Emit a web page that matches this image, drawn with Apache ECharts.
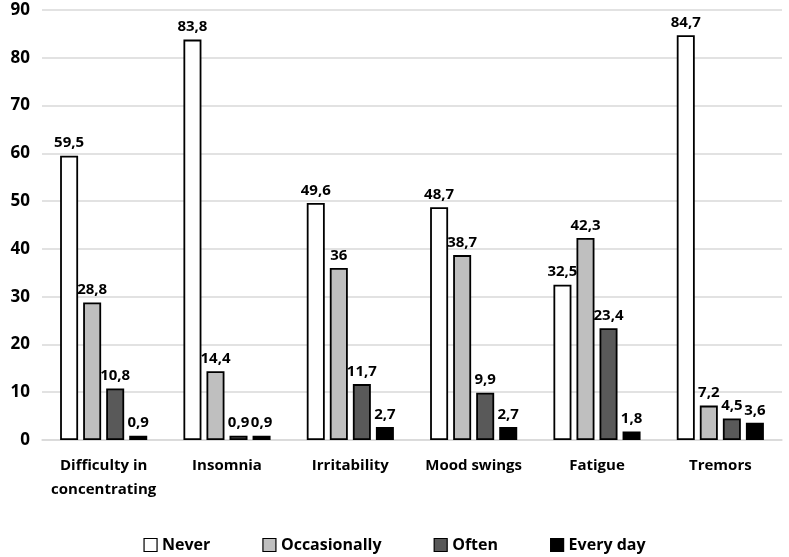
<!DOCTYPE html>
<html><head><meta charset="utf-8">
<script src="https://cdn.jsdelivr.net/npm/echarts@6/dist/echarts.min.js"></script>
<style>html,body{margin:0;padding:0;background:#fff}#c{width:789px;height:557px}</style>
</head><body><div id="c"></div>
<script>
const categories = ['Difficulty in\nconcentrating','Insomnia','Irritability','Mood swings','Fatigue','Tremors'];
const never = [59.5, 83.8, 49.6, 48.7, 32.5, 84.7];
const occasionally = [28.8, 14.4, 36, 38.7, 42.3, 7.2];
const often = [10.8, 0.9, 11.7, 9.9, 23.4, 4.5];
const everyDay = [0.9, 0.9, 2.7, 2.7, 1.8, 3.6];
const seriesNames = ['Never','Occasionally','Often','Every day'];
const colors = ['#ffffff','#bfbfbf','#595959','#000000'];
const font = '"Open Sans", sans-serif';
const chart = echarts.init(document.getElementById('c'));
const mk = (name, data, i) => ({
  name, type:'bar', data, barWidth:18, barGap:'28%',
  itemStyle:{color:colors[i], borderColor:'#000', borderWidth:1.8},
  label:{show:true, position:'top', distance:5, color:'#000', fontWeight:'bold', fontSize:15, fontFamily:font,
    formatter:p=>String(p.value).replace('.',',')}
});
chart.setOption({
  animation:false,
  grid:{left:42,right:7,top:10,bottom:117},
  legend:{bottom:-1,left:'center',itemWidth:13,itemHeight:13,itemGap:52,icon:'rect',
    textStyle:{fontFamily:font,fontWeight:'bold',fontSize:16,color:'#000'},
    data:seriesNames.map((n,i)=>({name:n,itemStyle:{color:colors[i],borderColor:'#000',borderWidth:1.2}}))},
  xAxis:{type:'category',data:categories,axisTick:{show:false},
    axisLine:{lineStyle:{color:'#d9d9d9',width:1.5}},
    axisLabel:{color:'#000',fontFamily:font,fontWeight:'bold',fontSize:15,margin:14,lineHeight:24,interval:0}},
  yAxis:{type:'value',min:0,max:90,interval:10,
    axisLabel:{color:'#000',fontFamily:font,fontWeight:'bold',fontSize:17,margin:12},
    splitLine:{lineStyle:{color:'#d9d9d9',width:1.5}},axisLine:{show:false},axisTick:{show:false}},
  series:[mk(seriesNames[0],never,0),mk(seriesNames[1],occasionally,1),mk(seriesNames[2],often,2),mk(seriesNames[3],everyDay,3)]
});
</script></body></html>
